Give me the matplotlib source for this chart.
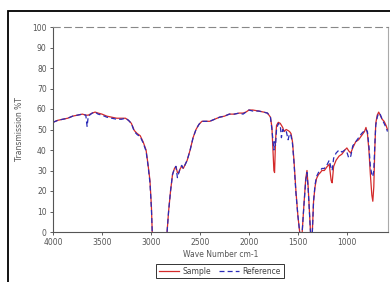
import matplotlib
matplotlib.use("Agg")
import matplotlib.pyplot as plt
from matplotlib.patches import Rectangle

# wave numbers (cm-1), shared by both spectra
wavenumber = [4000, 3950, 3900, 3850, 3800, 3750, 3700, 3665, 3652, 3640,
              3600, 3570, 3540, 3500, 3450, 3400, 3350, 3300, 3260, 3230,
              3200, 3170, 3140, 3110, 3080, 3050, 3030, 3010, 2995, 2985,
              2840, 2820, 2800, 2780, 2760, 2745, 2730, 2715, 2700, 2685,
              2670, 2650, 2630, 2600, 2570, 2540, 2510, 2480, 2400, 2350,
              2300, 2250, 2200, 2150, 2100, 2060, 2030, 2000, 1960, 1900,
              1850, 1810, 1780, 1765, 1755, 1745, 1738, 1728, 1718, 1700,
              1680, 1668, 1655, 1640, 1620, 1600, 1585, 1570, 1555, 1540,
              1520, 1500, 1475, 1460, 1440, 1420, 1407, 1395, 1380, 1368,
              1355, 1340, 1325, 1310, 1290, 1270, 1255, 1230, 1200, 1180,
              1160, 1150, 1135, 1110, 1080, 1050, 1020, 1000, 980, 960,
              940, 910, 880, 850, 820, 805, 790, 775, 760, 745,
              735, 725, 715, 705, 690, 675, 660, 640, 620, 600, 585]

# transmission %T; saturated bands go off the bottom of the scale
sample = [53.5, 54.5, 55, 55.5, 56.5, 57, 57.5, 57, 57, 57,
          58, 58.5, 58, 57.5, 56.5, 56, 55.5, 55.5, 55.5, 54.5,
          53, 49.5, 48, 47, 44, 40, 33, 25, 12, -3,
          -3, 10, 20, 28, 31, 32, 29, 29, 31, 32,
          31, 33, 35, 40, 46, 50, 52.5, 54, 54, 55,
          56, 56.5, 57.5, 57.5, 58, 58, 58.5, 59.5, 59.5, 59,
          58.5, 58, 56, 51, 40, 30, 29, 45, 52, 53.5,
          53, 52, 51, 49, 50, 49.5, 49, 48, 44, 35,
          20, 8, -3, -3, 12, 26, 30, 22, 8, -3,
          -3, 15, 22, 26, 28, 29, 30, 30, 32, 33,
          25, 24, 32, 35, 37, 38, 40, 41, 39.5, 38.5,
          41, 44, 45, 47, 49, 51, 48, 40, 28, 18,
          15, 22, 40, 53, 57, 58.5, 57, 55, 54, 52, 50]

reference = [53.5, 54.5, 55, 55.5, 56.5, 57, 57.5, 57, 51.5, 56.5,
             58, 58.5, 57.5, 57, 56, 55.5, 55, 55, 55.5, 54.5,
             53, 49, 47.5, 46.5, 43.5, 39.5, 32.5, 24, 11, -3,
             -3, 10, 20, 28, 31, 32, 26.5, 29, 31.5, 32.5,
             31, 33, 35, 40, 46, 50, 52.5, 54, 54, 55,
             56, 56.5, 57.5, 57.5, 58, 57.5, 58.5, 59.5, 59, 59,
             58.5, 58, 56, 50, 45, 40, 44, 42, 50, 53,
             52, 46, 50, 49, 49.5, 45, 48, 47, 43, 34,
             19, 8, -3, -3, 12, 25, 29, 21, 8, -3,
             -3, 15, 23, 27, 29, 30, 31, 31, 33, 35,
             31, 30, 36, 38.5, 40, 39, 40, 39, 36, 37,
             42, 44, 46, 48, 49.5, 50, 49, 42, 32, 28,
             27, 30, 42, 52, 56, 58, 57.5, 55, 53, 51, 49]

xticks = [4000, 3500, 3000, 2500, 2000, 1500, 1000]
yticks = list(range(0, 101, 10))

fig = plt.figure(figsize=(3.9, 2.82), dpi=100)
ax = fig.add_axes([53 / 390, 50 / 282, 335 / 390, 205 / 282])

ax.plot(wavenumber, sample, color="#d42a2a", lw=0.9, label="Sample")
ax.plot(wavenumber, reference, color="#2a2ab8", lw=0.9, ls=(0, (4, 2.5)),
        label="Reference")

ax.set_xlim(4000, 580)
ax.set_ylim(0, 100)
ax.set_xticks(xticks)
ax.set_yticks(yticks)
ax.tick_params(labelsize=5.5, length=2.5, width=0.6, pad=2,
               colors="#444444", labelcolor="#555555")

ax.set_xlabel("Wave Number cm-1", fontsize=5.5, labelpad=2, color="#555555")
ax.set_ylabel("Transmission %T", fontsize=5.5, labelpad=6, color="#555555")

# excel-like plot area border
ax.spines["left"].set_color("#555555")
ax.spines["bottom"].set_color("#555555")
ax.spines["top"].set_color("#888888")
ax.spines["top"].set_linestyle((0, (6, 4)))
ax.spines["right"].set_color("#aaaaaa")
for s in ax.spines.values():
    s.set_linewidth(0.8)

leg = fig.legend(loc="center", bbox_to_anchor=(220 / 390, 1 - 271 / 282),
                 ncol=2, fontsize=5.5, frameon=True, fancybox=False,
                 borderpad=0.35, handlelength=2.6, columnspacing=1.0,
                 handletextpad=0.5)
leg.get_frame().set_edgecolor("black")
leg.get_frame().set_linewidth(0.7)
for t in leg.get_texts():
    t.set_color("#444444")

# outer chart frame (runs off the right and bottom edge)
fig.patches.append(Rectangle((8 / 390, -0.1), 1.0, 1 - 11 / 282 + 0.1,
                             transform=fig.transFigure, fill=False,
                             edgecolor="black", lw=1.3))

fig.savefig("out.png", dpi=100)
